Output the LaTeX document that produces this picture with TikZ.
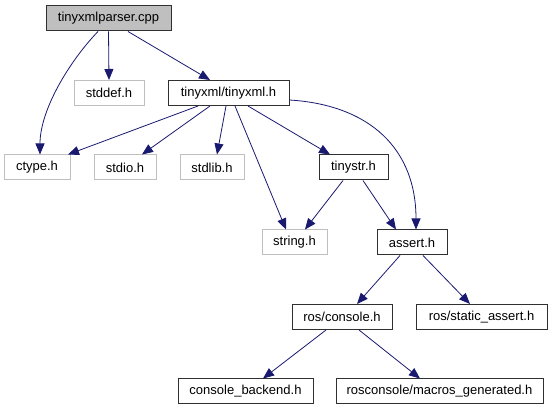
\documentclass[tikz,border=0pt]{standalone}
\usepackage{fontspec}
\setmainfont{Liberation Sans}
\usetikzlibrary{arrows.meta}
\definecolor{edgecol}{HTML}{191970}
\definecolor{graybd}{HTML}{BFBFBF}
\definecolor{mainfill}{HTML}{BFBFBF}
\definecolor{boxbd}{HTML}{303030}
\begin{document}
\begin{tikzpicture}[x=1pt,y=-1pt,
  box/.style={draw=boxbd, line width=1pt, minimum height=25pt, inner sep=0pt,
    font=\fontsize{13}{15}\selectfont, fill=white},
  ext/.style={box, draw=graybd},
  mainbox/.style={box, fill=mainfill},
  dep/.style={draw=edgecol, line width=0.8pt, -{Triangle[length=11pt,width=9pt]}}
]
\useasboundingbox (0,0) rectangle (552,411);
\node[mainbox, minimum width=125pt] (parser) at (108.5,18.5) {tinyxmlparser.cpp};
\node[ext, minimum width=70pt] (stddef) at (109,93) {stddef.h};
\node[box, minimum width=121pt] (tinyxml) at (228.5,93) {tinyxml/tinyxml.h};
\node[ext, minimum width=66pt] (ctype) at (37,167.5) {ctype.h};
\node[ext, minimum width=62pt] (stdio) at (125,167.5) {stdio.h};
\node[ext, minimum width=64pt] (stdlib) at (212,167.5) {stdlib.h};
\node[box, minimum width=69pt] (tinystr) at (353.5,167.5) {tinystr.h};
\node[ext, minimum width=65pt] (string) at (294.5,242.5) {string.h};
\node[box, minimum width=70pt] (assert) at (412,242.5) {assert.h};
\node[box, minimum width=100pt] (console) at (342,317) {ros/console.h};
\node[box, minimum width=131pt] (static) at (481.5,317) {ros/static\_assert.h};
\node[box, minimum width=135pt] (backend) at (245.5,391.5) {console\_backend.h};
\node[box, minimum width=207pt] (macros) at (439.5,391.5) {rosconsole/macros\_generated.h};

\draw[dep] ([xshift=-10.5pt]parser.south) .. controls +(-28,29) and +(0,-45) .. ([xshift=3pt]ctype.north);
\draw[dep] (parser.south) -- (stddef.north);
\draw[dep] ([xshift=19.5pt]parser.south) -- ([xshift=-18.5pt]tinyxml.north);
\draw[dep] ([xshift=-30.5pt]tinyxml.south) -- ([xshift=31pt]ctype.north);
\draw[dep] ([xshift=-18.5pt]tinyxml.south) -- ([xshift=17pt]stdio.north);
\draw[dep] ([xshift=-2.5pt]tinyxml.south) -- ([xshift=5pt]stdlib.north);
\draw[dep] ([xshift=6.5pt]tinyxml.south) -- ([xshift=-8.5pt]string.north);
\draw[dep] ([xshift=19.5pt]tinyxml.south) -- ([xshift=-23.5pt]tinystr.north);
\draw[dep] ([yshift=-7pt]tinyxml.east) .. controls +(81,5) and +(0,-80) .. ([xshift=4pt]assert.north);
\draw[dep] ([xshift=-10.5pt]tinystr.south) -- ([xshift=10.5pt]string.north);
\draw[dep] ([xshift=9.5pt]tinystr.south) -- ([xshift=-16pt]assert.north);
\draw[dep] ([xshift=-12pt]assert.south) -- ([xshift=15pt]console.north);
\draw[dep] ([xshift=11pt]assert.south) -- ([xshift=-11.5pt]static.north);
\draw[dep] ([xshift=-16pt]console.south) -- ([xshift=17.5pt]backend.north);
\draw[dep] ([xshift=17pt]console.south) -- ([xshift=-19.5pt]macros.north);
\end{tikzpicture}
\end{document}
